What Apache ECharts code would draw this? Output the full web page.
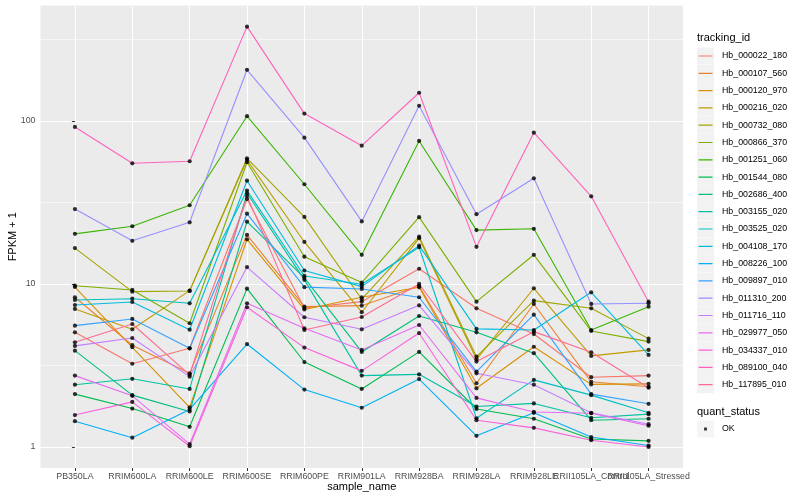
<!DOCTYPE html>
<html><head><meta charset="utf-8">
<script src="https://cdn.jsdelivr.net/npm/echarts@6/dist/echarts.min.js"></script>
<style>html,body{margin:0;padding:0;background:#fff}#c{width:800px;height:500px}</style>
</head><body><div id="c"></div>
<script>
// ---- data ----
const categories = ['PB350LA','RRIM600LA','RRIM600LE','RRIM600SE','RRIM600PE','RRIM901LA','RRIM928BA','RRIM928LA','RRIM928LE','RRII105LA_Control','RRII105LA_Stressed'];
const trackingIds = ['Hb_000022_180','Hb_000107_560','Hb_000120_970','Hb_000216_020','Hb_000732_080','Hb_000866_370','Hb_001251_060','Hb_001544_080','Hb_002686_400','Hb_003155_020','Hb_003525_020','Hb_004108_170','Hb_008226_100','Hb_009897_010','Hb_011310_200','Hb_011716_110','Hb_029977_050','Hb_034337_010','Hb_089100_040','Hb_117895_010'];
const seriesColors = ['#F8766D','#EA8331','#D89000','#C09B00','#A3A500','#7CAE00','#39B600','#00BB4E','#00BF7D','#00C1A3','#00BFC4','#00BAE0','#00B0F6','#35A2FF','#9590FF','#C77CFF','#E76BF3','#FA62DB','#FF62BC','#FF6C91'];
const yTickValues = [1, 10, 100];
const yMinorValues = [3.1623, 31.623, 316.23];
const quantStatus = ['OK'];

const Hb_000022_180 = [5.05, 3.24, 4.03, 33.2, 7.12, 7.79, 12.4, 7.09, 4.93, 2.68, 2.74];
const Hb_000107_560 = [8.29, 4.21, 2.83, 20.0, 7.26, 7.36, 9.72, 2.46, 7.54, 2.51, 2.34];
const Hb_000120_970 = [9.58, 4.09, 1.75, 18.8, 6.98, 8.29, 9.54, 2.29, 4.12, 2.42, 2.44];
const Hb_000216_020 = [7.03, 5.27, 9.1, 57.7, 18.1, 6.71, 19.1, 3.45, 9.41, 3.62, 3.94];
const Hb_000732_080 = [16.6, 8.97, 9.06, 59.0, 25.8, 8.06, 19.5, 3.58, 7.90, 7.09, 4.62];
const Hb_000866_370 = [9.76, 9.19, 5.74, 55.8, 14.7, 10.2, 25.7, 7.79, 15.1, 5.15, 4.43];
const Hb_001251_060 = [20.3, 22.6, 30.4, 107, 40.9, 15.1, 75.4, 21.4, 21.8, 5.22, 7.26];
const Hb_001544_080 = [2.11, 1.72, 1.33, 9.36, 3.32, 2.27, 3.83, 1.71, 1.49, 1.12, 1.09];
const Hb_002686_400 = [3.90, 2.08, 1.65, 24.1, 10.9, 3.83, 6.36, 5.05, 3.76, 1.46, 1.49];
const Hb_003155_020 = [2.41, 2.62, 2.27, 36.0, 10.6, 2.74, 2.79, 1.77, 1.85, 1.51, 1.59];
const Hb_003525_020 = [7.98, 8.12, 7.61, 37.4, 11.2, 9.96, 16.8, 1.50, 2.58, 2.08, 1.62];
const Hb_004108_170 = [7.43, 7.75, 5.24, 43.0, 12.1, 9.63, 17.2, 5.30, 5.22, 8.89, 3.67];
const Hb_008226_100 = [1.44, 1.14, 1.70, 4.28, 2.25, 1.74, 2.61, 1.17, 1.62, 1.15, 1.02];
const Hb_009897_010 = [5.55, 6.10, 4.03, 27.0, 9.56, 9.32, 8.29, 2.90, 6.48, 2.11, 1.84];
const Hb_011310_200 = [28.8, 18.4, 23.9, 206, 79.0, 24.2, 124, 26.8, 44.5, 7.54, 7.61];
const Hb_011716_110 = [4.17, 4.66, 2.70, 12.7, 6.25, 5.27, 7.40, 2.83, 2.41, 1.62, 1.38];
const Hb_029977_050 = [2.74, 2.06, 1.04, 7.61, 5.35, 3.94, 5.60, 2.00, 1.64, 1.61, 1.35];
const Hb_034337_010 = [1.57, 1.89, 1.01, 7.20, 4.07, 2.93, 5.00, 1.46, 1.31, 1.10, 1.00];
const Hb_089100_040 = [91.9, 55.0, 56.6, 379, 111, 70.5, 149, 16.9, 84.8, 34.5, 7.79];
const Hb_117895_010 = [4.39, 5.68, 2.77, 34.7, 5.22, 6.27, 10.0, 3.34, 5.10, 3.81, 2.31];

const seriesValues = [Hb_000022_180, Hb_000107_560, Hb_000120_970, Hb_000216_020, Hb_000732_080,
  Hb_000866_370, Hb_001251_060, Hb_001544_080, Hb_002686_400, Hb_003155_020, Hb_003525_020,
  Hb_004108_170, Hb_008226_100, Hb_009897_010, Hb_011310_200, Hb_011716_110, Hb_029977_050,
  Hb_034337_010, Hb_089100_040, Hb_117895_010];

// ---- chart ----
const FONT = '"Liberation Sans", Arial, Helvetica, sans-serif';
const catIdx = categories.map((c, i) => i);
const evenIdx = catIdx.filter(i => i % 2 === 0);
const oddIdx = catIdx.filter(i => i % 2 === 1);
const chart = echarts.init(document.getElementById('c'), null, {renderer: 'canvas'});

const lineSeries = trackingIds.map((id, k) => ({
  name: id, type: 'line', xAxisIndex: 0, yAxisIndex: 0,
  color: seriesColors[k],
  data: seriesValues[k].map((v, i) => [i, v]),
  symbol: 'none', showSymbol: false,
  lineStyle: {width: 1.1, color: seriesColors[k]},
  emphasis: {disabled: true}, z: 3, animation: false
}));
const pointData = [];
seriesValues.forEach(arr => arr.forEach((v, i) => pointData.push([i, v])));
const pointSeries = {
  name: quantStatus[0], type: 'scatter', xAxisIndex: 0, yAxisIndex: 0,
  data: pointData, symbol: 'circle', symbolSize: 4.2,
  color: '#000000', itemStyle: {color: '#000000'}, z: 5, animation: false,
  emphasis: {disabled: true}
};

const linePath = 'path://M0,0L0.01,0M1.5,7.9L15.5,7.9L15.5,9.1L1.5,9.1ZM17,17L16.99,17';
const dotPath = 'path://M0,0L0.01,0M7.1,7.1L9.9,7.1L9.9,9.9L7.1,9.9ZM17,17L16.99,17';

const legendCommon = {
  orient: 'vertical', left: 697, itemWidth: 17, itemHeight: 17, itemGap: 0.3,
  padding: 0, selectedMode: false
};

const xLabelCommon = {margin: 4, fontSize: 8.8, color: '#4D4D4D', fontFamily: FONT,
  hideOverlap: false, formatter: v => categories[Math.round(v)]};

const option = {
  animation: false,
  backgroundColor: '#ffffff',
  textStyle: {fontFamily: FONT},
  title: [
    {text: 'tracking_id', left: 697, top: 32, padding: 0,
     textStyle: {fontSize: 11, fontWeight: 'normal', color: '#000', fontFamily: FONT}},
    {text: 'quant_status', left: 697, top: 406, padding: 0,
     textStyle: {fontSize: 11, fontWeight: 'normal', color: '#000', fontFamily: FONT}}
  ],
  grid: {left: 40.5, right: 117, top: 5.5, bottom: 32, show: true,
         backgroundColor: '#EBEBEB', borderWidth: 0, containLabel: false, outerBoundsMode: 'none'},
  legend: [
    Object.assign({}, legendCommon, {top: 47.5, z: 3, data: trackingIds, icon: 'rect',
      itemStyle: {color: '#F2F2F2', borderWidth: 0}, formatter: () => '', textStyle: {fontSize: 8.8}}),
    Object.assign({}, legendCommon, {top: 47.5, z: 4, data: trackingIds, icon: linePath,
      itemStyle: {borderWidth: 0}, lineStyle: {width: 0},
      textStyle: {fontSize: 8.8, color: '#000', fontFamily: FONT, padding: [0, 0, 0, 3]}}),
    Object.assign({}, legendCommon, {top: 420.5, z: 3, data: quantStatus, icon: 'rect',
      itemStyle: {color: '#F2F2F2', borderWidth: 0}, formatter: () => '', textStyle: {fontSize: 8.8}}),
    Object.assign({}, legendCommon, {top: 420.5, z: 4, data: quantStatus, icon: dotPath,
      itemStyle: {borderWidth: 0},
      textStyle: {fontSize: 8.8, color: '#000', fontFamily: FONT, padding: [0, 0, 0, 3]}})
  ],
  xAxis: [{
    type: 'value', min: -0.6, max: 10.6, position: 'bottom', offset: 0,
    name: 'sample_name', nameLocation: 'middle', nameGap: 13, nameMoveOverlap: false,
    nameTextStyle: {fontSize: 11, color: '#000', fontFamily: FONT},
    axisLine: {show: false},
    axisTick: {show: true, inside: false, length: 3, lineStyle: {color: '#333333', width: 1}, customValues: catIdx},
    axisLabel: Object.assign({show: true, customValues: evenIdx}, xLabelCommon),
    splitLine: {show: true, lineStyle: {color: '#FFFFFF', width: 1.1}}
  }, {
    type: 'value', min: -0.6, max: 10.6, position: 'bottom', offset: 0,
    axisLine: {show: false},
    axisTick: {show: false, customValues: oddIdx},
    axisLabel: Object.assign({show: true, customValues: oddIdx}, xLabelCommon),
    splitLine: {show: false}
  }],
  yAxis: [{
    type: 'log', logBase: 10, min: 0.743, max: 511, position: 'left', offset: 0,
    name: 'FPKM + 1', nameLocation: 'middle', nameGap: 22, nameRotate: 90, nameMoveOverlap: false,
    nameTextStyle: {fontSize: 11, color: '#000', fontFamily: FONT},
    axisLine: {show: false},
    axisTick: {show: true, inside: false, length: 3, lineStyle: {color: '#333333', width: 1}, customValues: yTickValues},
    axisLabel: {show: true, customValues: yTickValues, margin: 5, fontSize: 8.8, color: '#4D4D4D', fontFamily: FONT,
      formatter: v => String(Math.round(v))},
    splitLine: {show: true, lineStyle: {color: '#FFFFFF', width: 1.1}}
  }, {
    type: 'log', logBase: 10, min: 0.743, max: 511, position: 'left', offset: 0,
    axisLine: {show: false},
    axisTick: {show: false, customValues: yMinorValues},
    axisLabel: {show: false, customValues: yMinorValues},
    splitLine: {show: true, lineStyle: {color: '#FFFFFF', width: 0.55}}
  }],
  series: lineSeries.concat([pointSeries])
};
chart.setOption(option);
</script>
</body></html>
